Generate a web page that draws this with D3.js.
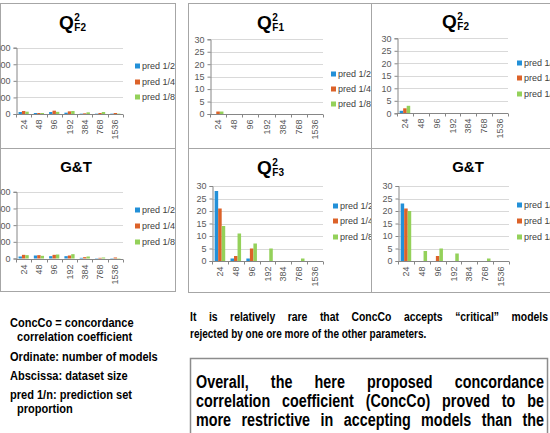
<!DOCTYPE html>
<html>
<head>
<meta charset="utf-8">
<script src="https://cdn.jsdelivr.net/npm/d3@7"></script>
<style>
  body { margin: 0; background: #fff; }
  svg { display: block; font-family: "Liberation Sans", Arial, sans-serif; }
</style>
</head>
<body>
<div id="chart"></div>
<script>
// dataset sizes (categories) and series names
var sizes = ["24", "48", "96", "192", "384", "768", "1536"];
var predSeries = ["pred 1/2", "pred 1/4", "pred 1/8"];

// number of models, one array per series (pred 1/2, 1/4, 1/8)
var qf2Left = [[24, 12, 24, 16, 4, 4, 4], [36, 12, 40, 32, 8, 12, 12], [28, 12, 26, 36, 20, 24, 4]];
var gtLeft = [[24, 36, 28, 28, 8, 4, 4], [44, 40, 44, 36, 16, 8, 12], [40, 32, 48, 52, 24, 12, 4]];
var qf1 = [[0, 0, 0, 0, 0, 0, 0], [1, 0, 0, 0, 0, 0, 0], [1, 0, 0, 0, 0, 0, 0]];
var qf2 = [[1, 0, 0, 0, 0, 0, 0], [2, 0, 0, 0, 0, 0, 0], [3, 0, 0, 0, 0, 0, 0]];
var qf3 = [[28, 1, 1, 0, 0, 0, 0], [21, 2, 5, 0, 0, 0, 0], [14, 11, 7, 5, 0, 1, 0]];
var gt = [[23, 0, 0, 0, 0, 0, 0], [21, 0, 2, 0, 0, 0, 0], [20, 4, 5, 3, 0, 1, 0]];

var ticksLeft = [0, 200, 400, 600, 800];
var ticksRight = [0, 5, 10, 15, 20, 25, 30];

var colors = ["#2290d8", "#dc6229", "#94d15a"];

var svg = d3.select("#chart").append("svg")
    .attr("width", 550)
    .attr("height", 433);

// panel layout: box, plot area, title, legend
var panels = [
  {box: [0, 3, 175, 148], px: [16, 123], py: [114, 47.7], ticks: ticksLeft, data: qf2Left,
   title: ["Q", "F2"], tx: 73, ty: 29, lx: 135, ly: [66, 82, 97]},
  {box: [0, 148, 175, 291], px: [16, 123], py: [258.5, 191.8], ticks: ticksLeft, data: gtLeft,
   title: ["G&T"], tx: 76, ty: 172, lx: 135, ly: [210, 226, 242]},
  {box: [188, 3, 371, 148], px: [210, 323], py: [114, 39.3], ticks: ticksRight, data: qf1,
   title: ["Q", "F1"], tx: 271, ty: 29, lx: 331, ly: [74, 89, 104]},
  {box: [371, 3, 560, 148], px: [397, 508], py: [113.3, 38.3], ticks: ticksRight, data: qf2,
   title: ["Q", "F2"], tx: 456, ty: 28, lx: 517, ly: [63, 78, 94]},
  {box: [188, 148, 371, 292], px: [212, 323], py: [261, 186], ticks: ticksRight, data: qf3,
   title: ["Q", "F3"], tx: 271, ty: 174, lx: 333, ly: [206, 221, 237]},
  {box: [371, 148, 560, 292], px: [398, 509], py: [261, 186], ticks: ticksRight, data: gt,
   title: ["G&T"], tx: 468, ty: 172, lx: 517, ly: [205, 221, 237]}
];

var defs = svg.append("defs");

panels.forEach(function(p, idx) {
  var b = p.box;
  defs.append("clipPath").attr("id", "clip" + idx)
    .append("rect")
      .attr("x", b[0]).attr("y", b[1])
      .attr("width", b[2] - b[0]).attr("height", b[3] - b[1]);

  svg.append("rect")
      .attr("x", b[0] + 0.5).attr("y", b[1] + 0.5)
      .attr("width", b[2] - b[0]).attr("height", b[3] - b[1])
      .attr("fill", "none")
      .attr("stroke", "#a6a6a6");

  var g = svg.append("g").attr("clip-path", "url(#clip" + idx + ")");

  var x = d3.scaleBand().domain(sizes).range(p.px);
  var xInner = d3.scaleBand().domain(predSeries)
      .range([x.bandwidth() / 6, x.bandwidth() * 5 / 6]);
  var y = d3.scaleLinear().domain([0, d3.max(p.ticks)]).range(p.py);

  // gridlines
  g.selectAll(".grid").data(p.ticks.slice(1)).enter().append("line")
      .attr("x1", p.px[0]).attr("x2", p.px[1])
      .attr("y1", function(d) { return Math.round(y(d)) + 0.5; })
      .attr("y2", function(d) { return Math.round(y(d)) + 0.5; })
      .attr("stroke", "#d9d9d9");

  // y axis
  var yAxis = g.append("g")
      .attr("transform", "translate(" + (Math.round(p.px[0]) + 0.5) + ",0)")
      .call(d3.axisLeft(y).tickValues(p.ticks).tickSize(3).tickPadding(3));
  yAxis.select(".domain").attr("stroke", "#868686");
  yAxis.selectAll(".tick line").attr("stroke", "#868686");
  yAxis.selectAll("text").attr("fill", "#595959").style("font-size", "9px");

  // bars
  p.data.forEach(function(vals, s) {
    g.selectAll(".bar" + s).data(vals).enter().append("rect")
        .attr("x", function(d, i) { return x(sizes[i]) + xInner(predSeries[s]); })
        .attr("width", xInner.bandwidth())
        .attr("y", function(d) { return y(d); })
        .attr("height", function(d) { return y(0) - y(d); })
        .attr("fill", colors[s]);
  });

  // x axis with ticks on category boundaries
  var y0 = Math.round(y(0)) + 0.5;
  g.append("line")
      .attr("x1", p.px[0]).attr("x2", p.px[1])
      .attr("y1", y0).attr("y2", y0)
      .attr("stroke", "#868686");
  g.selectAll(".xtick").data(sizes.concat(["end"])).enter().append("line")
      .attr("x1", function(d, i) { return Math.round(p.px[0] + i * x.step()) + 0.5; })
      .attr("x2", function(d, i) { return Math.round(p.px[0] + i * x.step()) + 0.5; })
      .attr("y1", y0).attr("y2", y0 + 3)
      .attr("stroke", "#868686");
  g.selectAll(".xlab").data(sizes).enter().append("text")
      .attr("transform", function(d) {
        return "translate(" + (x(d) + x.bandwidth() / 2 + 3) + "," + (y0 + 5) + ") rotate(-90)";
      })
      .attr("text-anchor", "end")
      .attr("fill", "#595959")
      .style("font-size", "9px")
      .text(function(d) { return d; });

  // title
  if (p.title.length === 2) {
    var t = g.append("text")
        .attr("x", p.tx - 14).attr("y", p.ty)
        .style("font-size", "19px").style("font-weight", "bold")
        .attr("fill", "#000")
        .text(p.title[0]);
    var qw = t.node().getComputedTextLength();
    g.append("text")
        .attr("x", p.tx - 14 + qw + 0.5).attr("y", p.ty - 8.5)
        .style("font-size", "10px").style("font-weight", "bold")
        .text("2");
    g.append("text")
        .attr("x", p.tx - 14 + qw + 0.5).attr("y", p.ty + 2)
        .style("font-size", "10px").style("font-weight", "bold")
        .text(p.title[1]);
  } else {
    g.append("text")
        .attr("x", p.tx).attr("y", p.ty)
        .attr("text-anchor", "middle")
        .style("font-size", "15px").style("font-weight", "bold")
        .text(p.title[0]);
  }

  // legend
  predSeries.forEach(function(name, s) {
    g.append("rect")
        .attr("x", p.lx).attr("y", p.ly[s] - 2.5)
        .attr("width", 5).attr("height", 5)
        .attr("fill", colors[s]);
    g.append("text")
        .attr("x", p.lx + 7).attr("y", p.ly[s] + 3)
        .attr("fill", "#404040")
        .style("font-size", "9px")
        .text(name);
  });
});

// text on the slide (condensed bold)
function plainLine(txt, x, y, size, sx) {
  svg.append("text")
      .attr("transform", "translate(" + x + "," + y + ") scale(" + sx + ",1)")
      .style("font-size", size + "px").style("font-weight", "bold")
      .text(txt);
}
function justifyLine(txt, x, y, width, size, sx) {
  var words = txt.split(" ");
  var t = svg.append("text")
      .attr("transform", "translate(" + x + "," + y + ") scale(" + sx + ",1)")
      .style("font-size", size + "px").style("font-weight", "bold");
  var spans = words.map(function(w) { return t.append("tspan").text(w); });
  var widths = spans.map(function(s) { return s.node().getComputedTextLength(); });
  var gap = (width / sx - d3.sum(widths)) / (words.length - 1);
  var cx = 0;
  spans.forEach(function(s, i) { s.attr("x", cx); cx += widths[i] + gap; });
}

plainLine("ConcCo = concordance", 10, 327, 13, 0.85);
plainLine("correlation coefficient", 17, 341, 13, 0.85);
plainLine("Ordinate: number of models", 10, 361, 13, 0.85);
plainLine("Abscissa: dataset size", 10, 380, 13, 0.85);
plainLine("pred 1/n: prediction set", 10, 399, 13, 0.85);
plainLine("proportion", 17, 413, 13, 0.85);

justifyLine("It is relatively rare that ConcCo accepts \u201ccritical\u201d models", 190, 321, 358, 13, 0.8);
plainLine("rejected by one ore more of the other parameters.", 190, 338, 13, 0.77);

svg.append("rect")
    .attr("x", 190.5).attr("y", 358.5)
    .attr("width", 357).attr("height", 100)
    .attr("fill", "none")
    .attr("stroke", "#8c8c8c")
    .attr("stroke-width", 1.5);

justifyLine("Overall, the here proposed concordance", 196, 388, 348, 17.5, 0.82);
justifyLine("correlation coefficient (ConcCo) proved to be", 196, 407, 348, 17.5, 0.82);
justifyLine("more restrictive in accepting models than the", 196, 426, 348, 17.5, 0.82);
</script>
</body>
</html>
